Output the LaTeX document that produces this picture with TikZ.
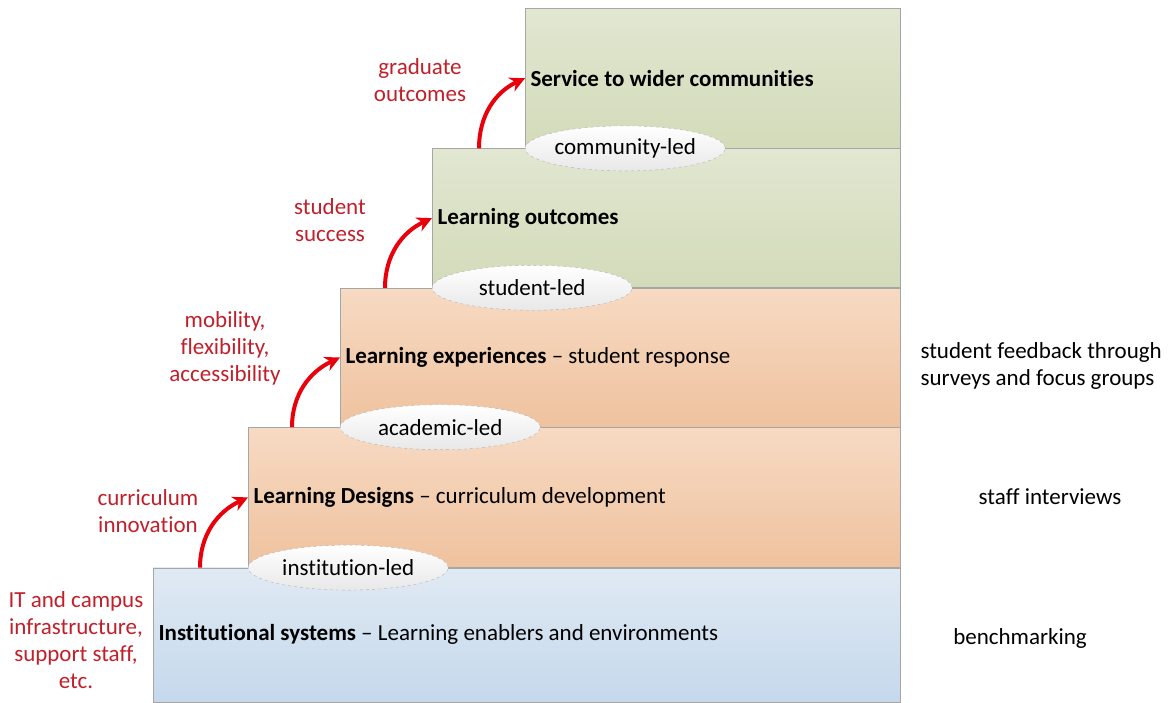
\documentclass[tikz,border=0pt]{standalone}
\usepackage{fontspec}
\setmainfont[RawFeature={-liga}]{Carlito}
\usetikzlibrary{positioning}
\usetikzlibrary{shapes.geometric}
\usetikzlibrary{arrows.meta}
\definecolor{bluetop}{HTML}{E0EAF4}
\definecolor{bluebot}{HTML}{C5D8EB}
\definecolor{orangetop}{HTML}{F7DAC3}
\definecolor{orangebot}{HTML}{EFC29E}
\definecolor{greentop}{HTML}{E1E7D1}
\definecolor{greenbot}{HTML}{D2DBB9}
\definecolor{driverred}{HTML}{C0202A}
\definecolor{liftred}{HTML}{E8000B}

\begin{document}
\begin{tikzpicture}[x=1pt, y=-1pt, font=\fontsize{23}{27}\selectfont,
	stepbox/.style={rectangle, draw=gray!70, inner sep=0pt, minimum height=139pt},
	ledby/.style={ellipse, draw=gray!60, dashed, top color=white, bottom color=gray!18, minimum width=200pt, minimum height=45pt, inner sep=0pt},
	driver/.style={text=driverred, align=center},
	lift/.style={-{Stealth[length=15pt, width=15pt]}, draw=liftred, line width=4pt}]
		\useasboundingbox (0,0) rectangle (1174,703);
		
		% the steps, bottom to top
		\node [stepbox, minimum width=747pt, minimum height=134pt, anchor=south west, top color=bluetop, bottom color=bluebot] (inst) at (153,702) {};
		\node [stepbox, minimum width=652pt, minimum height=140pt, anchor=south east, top color=orangetop, bottom color=orangebot] (designs) at (inst.north east) {};
		\node [stepbox, minimum width=560pt, anchor=south east, top color=orangetop, bottom color=orangebot] (experiences) at (designs.north east) {};
		\node [stepbox, minimum width=468pt, anchor=south east, top color=greentop, bottom color=greenbot] (outcomes) at (experiences.north east) {};
		\node [stepbox, minimum width=375pt, minimum height=140pt, anchor=south east, top color=greentop, bottom color=greenbot] (service) at (outcomes.north east) {};
		
		\node [right=2pt of inst.west] (instlabel) {\textbf{Institutional systems} -- Learning enablers and environments};
		\node [right=2pt of designs.west] (designslabel) {\textbf{Learning Designs} -- curriculum development};
		\node [right=2pt of experiences.west] (experienceslabel) {\textbf{Learning experiences} -- student response};
		\node [right=2pt of outcomes.west] (outcomeslabel) {\textbf{Learning outcomes}};
		\node [right=2pt of service.west] (servicelabel) {\textbf{Service to wider communities}};
		
		\node [ledby, right=0pt of designs.south west] (instled) {institution-led};
		\node [ledby, right=0pt of experiences.south west] (acadled) {academic-led};
		\node [ledby, right=0pt of outcomes.south west] (studled) {student-led};
		\node [ledby, right=0pt of service.south west] (commled) {community-led};
		
		\coordinate (liftA) at ([xshift=47pt]inst.north west);
		\coordinate (liftB) at ([xshift=44pt]designs.north west);
		\coordinate (liftC) at ([xshift=45pt]experiences.north west);
		\coordinate (liftD) at ([xshift=47pt]outcomes.north west);
		\draw [lift] (liftA) to[out=90, in=205] (designs.west);
		\draw [lift] (liftB) to[out=90, in=205] (experiences.west);
		\draw [lift] (liftC) to[out=90, in=205] (outcomes.west);
		\draw [lift] (liftD) to[out=90, in=205] (service.west);
		
		\node [driver] (itinfra) at (76,640) {IT and campus\\infrastructure,\\support staff,\\etc.};
		\node [driver] (innovation) at (148,511) {curriculum\\innovation};
		\node [driver] (mobility) at (225,348) {mobility,\\flexibility,\\accessibility};
		\node [driver] (success) at (330,220) {student\\success};
		\node [driver] (graduate) at (420,80) {graduate\\outcomes};
		
		\node [anchor=west, align=left] (feedback) at (917,366) {student feedback through\\surveys and focus groups};
		\node (interviews) at (1050,497) {staff interviews};
		\node (benchmark) at (1020,638) {benchmarking};
\end{tikzpicture}
\end{document}
